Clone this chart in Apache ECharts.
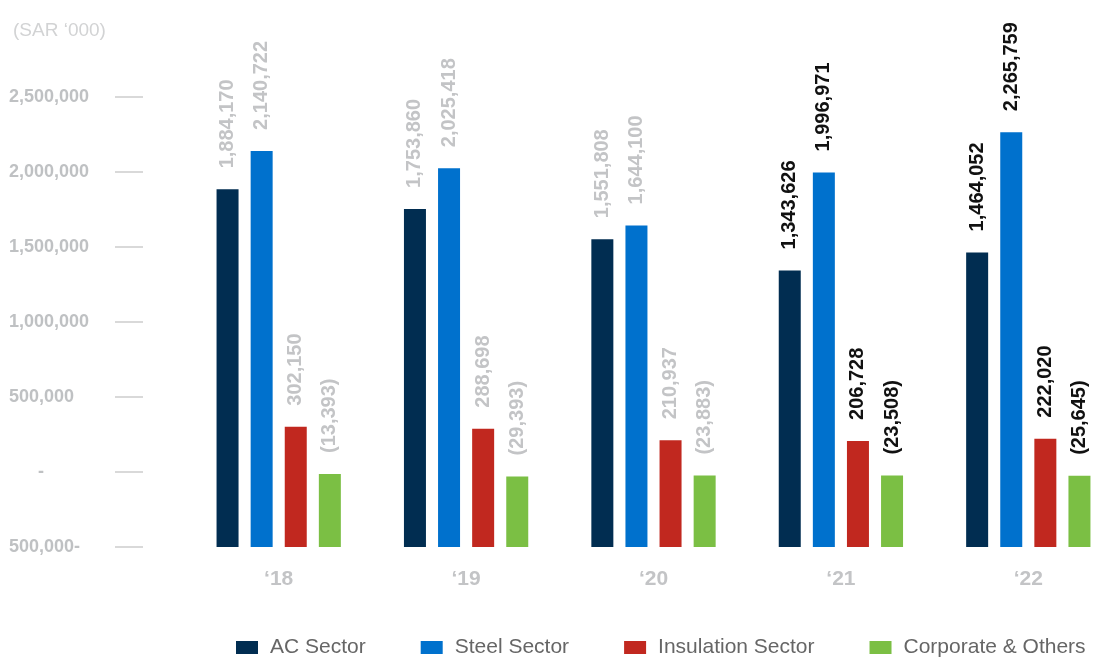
<!DOCTYPE html>
<html>
<head>
<meta charset="utf-8">
<script src="https://cdn.jsdelivr.net/npm/echarts@6/dist/echarts.min.js"></script>
<style>html,body{margin:0;padding:0;background:#fff;overflow:hidden;width:1094px;height:660px}#c{width:1122px;height:660px}</style>
</head>
<body>
<div id="c"></div>
<script>
const categories = ['\u201818', '\u201819', '\u201820', '\u201821', '\u201822'];
const seriesNames = ['AC Sector', 'Steel Sector', 'Insulation Sector', 'Corporate & Others'];
const acSector = [1884170, 1753860, 1551808, 1343626, 1464052];
const steelSector = [2140722, 2025418, 1644100, 1996971, 2265759];
const insulationSector = [302150, 288698, 210937, 206728, 222020];
const corporateOthers = [-13393, -29393, -23883, -23508, -25645];
const highlighted = [false, false, false, true, true];
const yTickLabels = ['500,000-', '-', '500,000', '1,000,000', '1,500,000', '2,000,000', '2,500,000'];
const axisMin = -500000, axisMax = 2500000, axisStep = 500000;

const colors = ['#012d51', '#0071cd', '#c1281f', '#7bbf44'];
const FONT = '"Liberation Sans", Arial, sans-serif';

function fmt(v) {
  const s = Math.abs(v).toLocaleString('en-US');
  return v < 0 ? '(' + s + ')' : s;
}
function build(arr) {
  return arr.map((v, i) => ({
    value: v - axisMin,
    raw: v,
    label: { color: highlighted[i] ? '#111111' : '#c3c4c6' }
  }));
}
const allData = [acSector, steelSector, insulationSector, corporateOthers];

const chart = echarts.init(document.getElementById('c'), null, { renderer: 'canvas' });
chart.setOption({
  animation: false,
  textStyle: { fontFamily: FONT },
  title: {
    text: '(SAR \u2018000)', left: 8, top: 16,
    textStyle: { fontFamily: FONT, fontSize: 19, fontWeight: 'normal', color: '#d2d3d4' }
  },
  grid: { left: 185, right: 0, top: 97, bottom: 113, containLabel: false },
  legend: {
    data: seriesNames, left: 231, top: 632, itemWidth: 22, itemHeight: 13, itemGap: 55,
    icon: 'rect',
    textStyle: { fontFamily: FONT, fontSize: 21, color: '#666666', padding: [0, 0, 0, 7] }
  },
  xAxis: {
    type: 'category', data: categories,
    axisLine: { show: false }, axisTick: { show: false },
    axisLabel: { fontFamily: FONT, fontSize: 21, fontWeight: 'bold', color: '#c3c4c6', margin: 22 }
  },
  yAxis: {
    type: 'value', min: 0, max: axisMax - axisMin, interval: axisStep,
    offset: 42,
    axisLine: { show: false },
    splitLine: { show: false },
    axisTick: { show: true, length: 28, lineStyle: { color: '#d9d9d9', width: 2 } },
    axisLabel: {
      align: 'left', margin: 134,
      fontFamily: FONT, fontSize: 18, fontWeight: 'bold', color: '#bfc1c3',
      formatter: function (v) {
        const idx = Math.round(v / axisStep);
        const t = yTickLabels[idx];
        return t === '-' ? '{d|-}' : t;
      },
      rich: { d: { fontFamily: FONT, fontSize: 18, fontWeight: 'bold', color: '#bfc1c3', padding: [0, 0, 0, 29] } }
    }
  },
  series: seriesNames.map((name, k) => ({
    name: name, type: 'bar', barWidth: 22, barGap: '55%',
    itemStyle: { color: colors[k] },
    data: build(allData[k]),
    label: {
      show: true, position: 'top', rotate: 90, align: 'left', verticalAlign: 'middle',
      distance: 21, fontFamily: FONT, fontSize: 20, fontWeight: 'bold',
      formatter: p => fmt(p.data.raw)
    }
  }))
});
</script>
</body>
</html>
